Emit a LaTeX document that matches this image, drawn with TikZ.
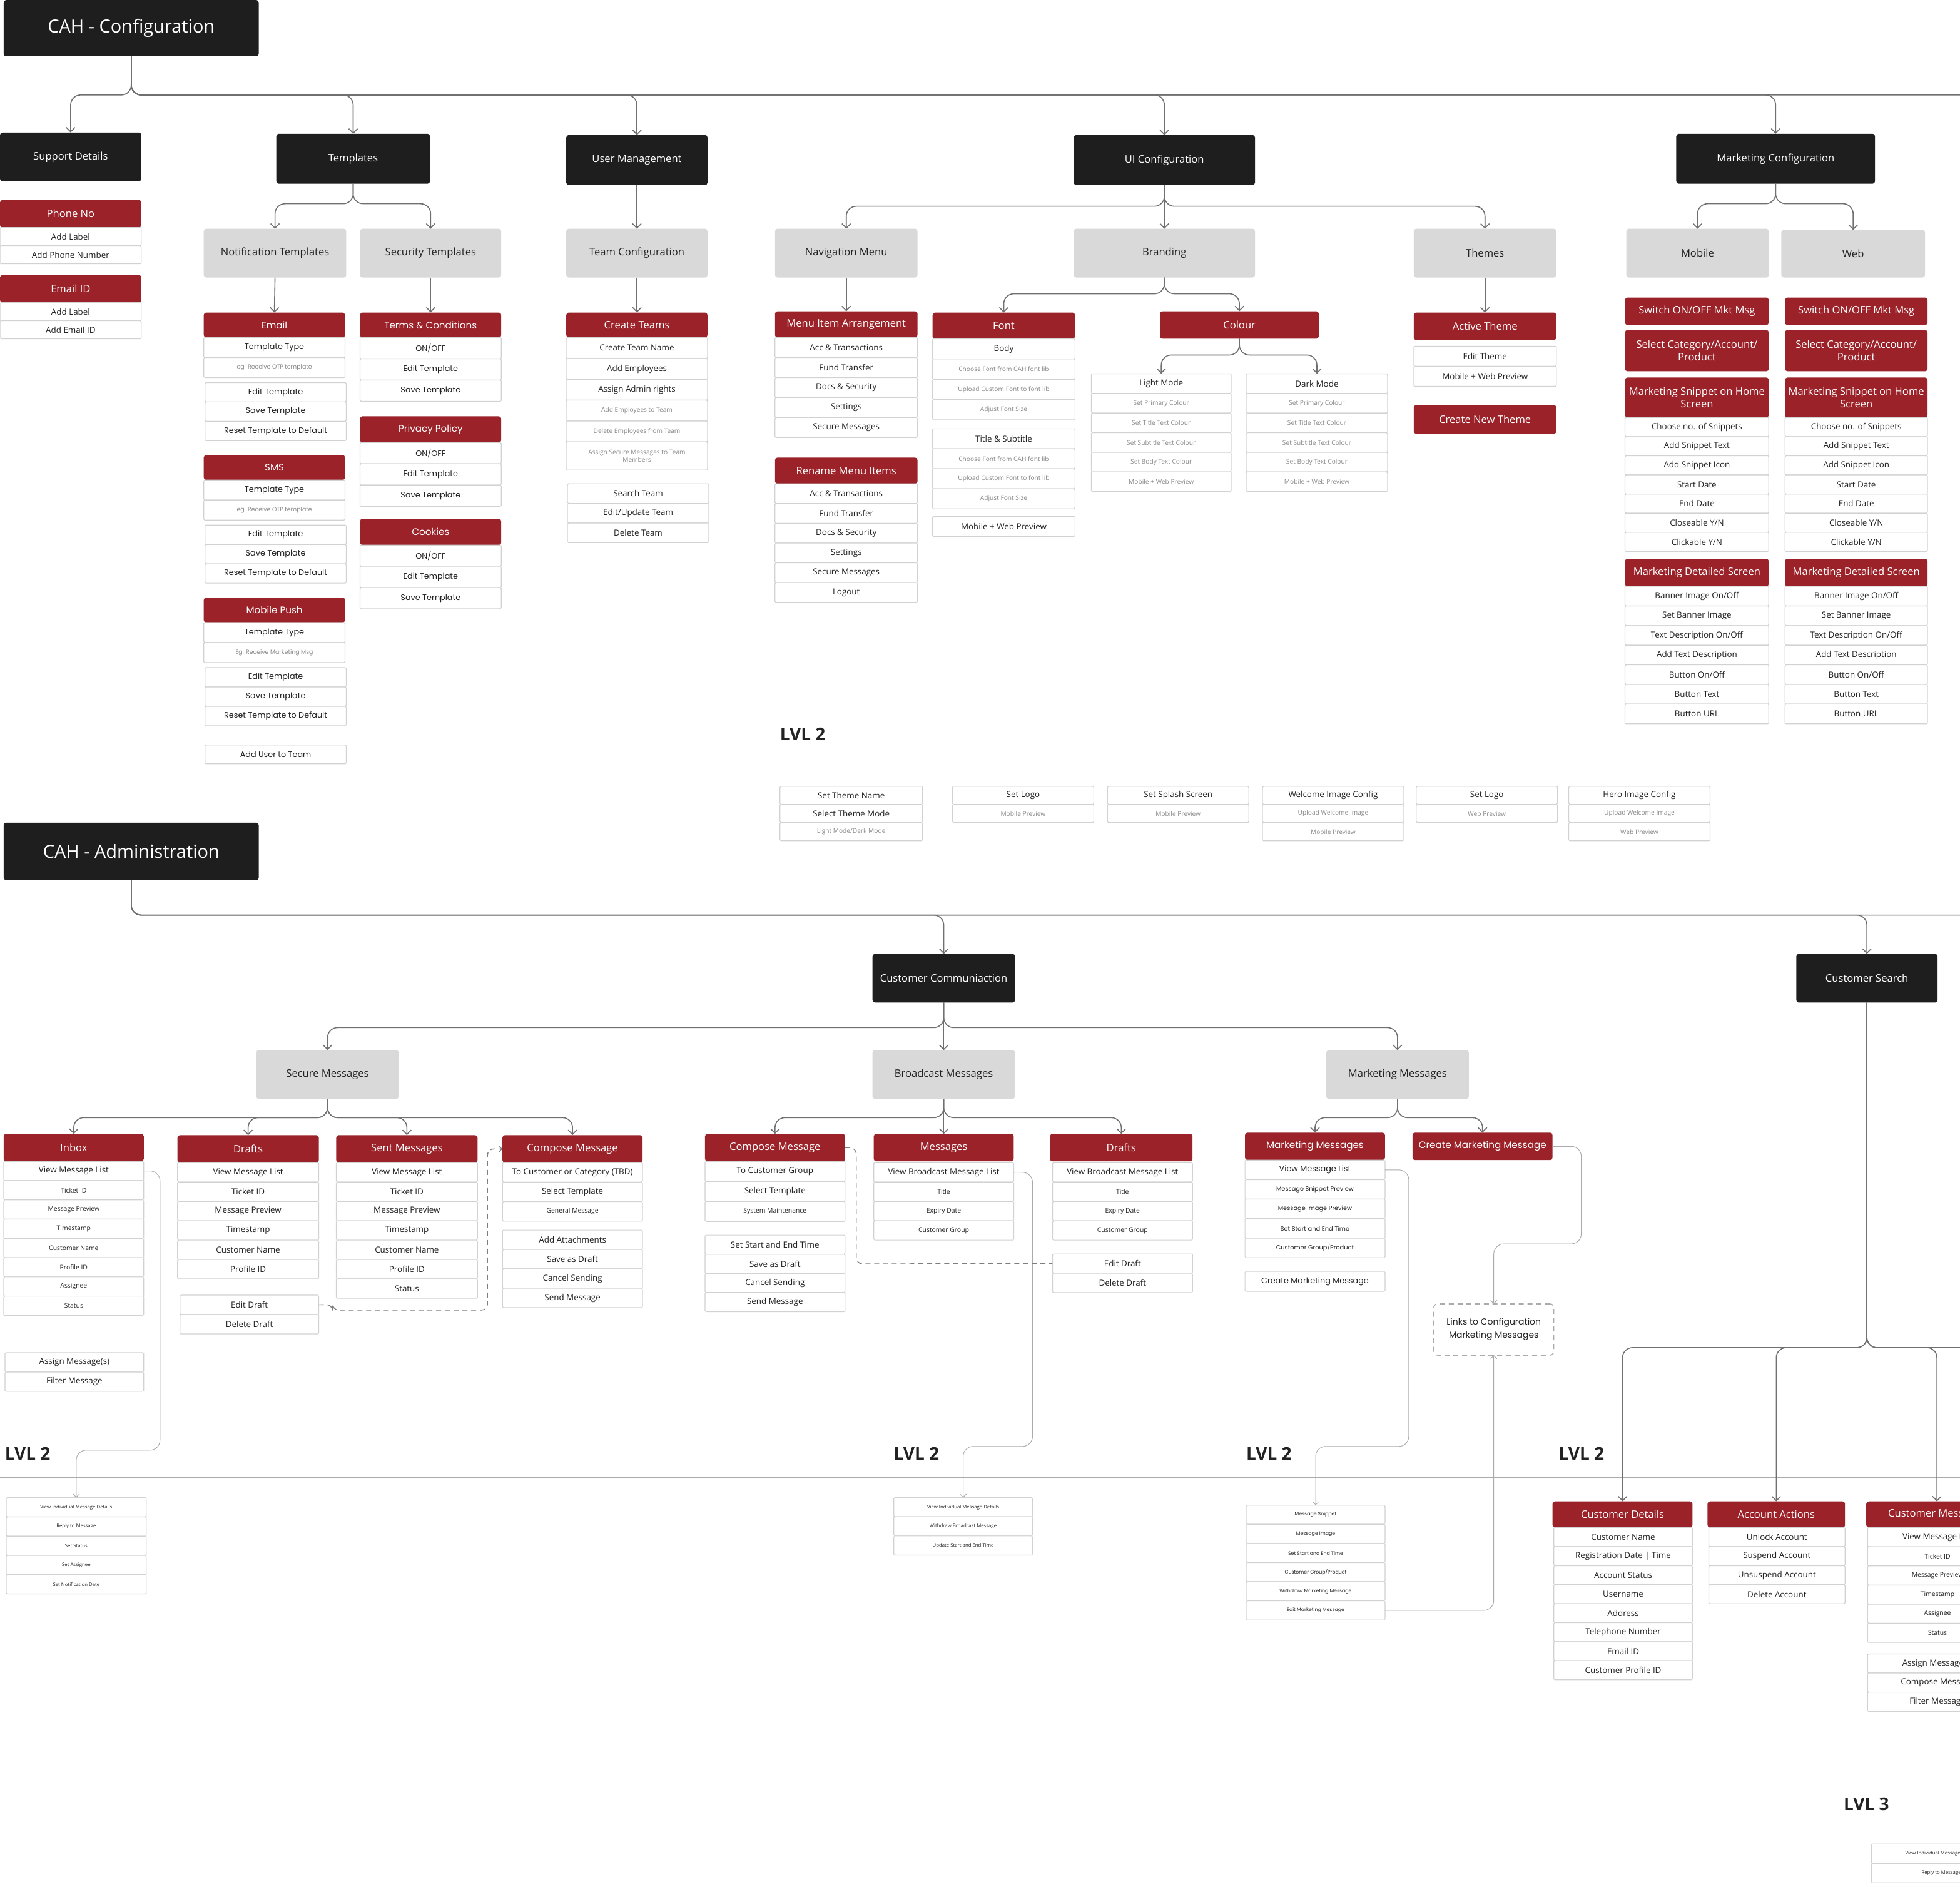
\documentclass[tikz,border=0pt]{standalone}
\usepackage{fontspec}
\setmainfont{Open Sans}
\newfontfamily\pop{Poppins}
\usetikzlibrary{arrows.meta}
\definecolor{dkc}{HTML}{1E1E1E}
\definecolor{grc}{HTML}{D9D9D9}
\definecolor{rdc}{HTML}{9B2229}
\definecolor{bdc}{HTML}{D2D2D2}
\definecolor{txc}{HTML}{222222}
\definecolor{gtc}{HTML}{8A8A8A}
\definecolor{cnc}{HTML}{707070}
\definecolor{lnc}{HTML}{ABABAB}
\newcommand\sG[1]{{\fontsize{5.1}{6}\selectfont\color{gtc}#1}}
\newcommand\sD[1]{{\fontsize{5.2}{6}\selectfont #1}}
\newcommand\sP[1]{{\pop\fontsize{4.7}{5.5}\selectfont\color{gtc}#1}}
\newcommand\sQ[1]{{\pop\fontsize{4.9}{5.5}\selectfont #1}}
\newcommand\bx[7]{\node[#1, minimum width={#4-#2}, minimum height={#5-#3}] (#6) at ({(#2+#4)/2},{(#3+#5)/2}) {#7};}
\newcommand\blist[7]{\foreach \lt [count=\i] in {#7} {\node[#1, minimum width={#3-#2}, minimum height=#5] (#6\i) at ({(#2+#3)/2},{#4+(\i-0.5)*#5}) {\lt};}}
\tikzset{
 every node/.style={inner sep=1pt, outer sep=0pt, align=center},
 dk/.style={fill=dkc, rounded corners=2pt, text=white, font=\fontsize{8.3}{9.5}\selectfont},
 gr/.style={fill=grc, rounded corners=2pt, text=txc, font=\fontsize{8.3}{9.5}\selectfont},
 rd/.style={fill=rdc, rounded corners=2pt, text=white, font=\fontsize{8.3}{9.8}\selectfont},
 rdp/.style={rd, font=\pop\fontsize{7.6}{9}\selectfont},
 itm/.style={draw=bdc, fill=white, line width=0.6pt, rounded corners=0.8pt, text=txc, font=\fontsize{6.7}{7.5}\selectfont},
 itms/.style={itm, text=gtc, font=\fontsize{5.1}{6.5}\selectfont},
 itmp/.style={itm, font=\pop\fontsize{6.4}{7}\selectfont},
 itmt/.style={itm, font=\fontsize{3.9}{4.5}\selectfont},
 itmpt/.style={itm, font=\pop\fontsize{3.9}{4.5}\selectfont},
 lbox/.style={draw=lnc, dashed, dash pattern=on 4pt off 3pt, line width=0.8pt, rounded corners=3pt, fill=white, text=txc, font=\pop\fontsize{7}{10.5}\selectfont},
 conn/.style={draw=cnc, line width=0.8pt, rounded corners=8pt},
 arr/.style={-{Straight Barb[length=3.5pt,width=7pt]}},
 lnk/.style={draw=lnc, line width=0.5pt, rounded corners=8pt},
 arrs/.style={-{Straight Barb[length=2.5pt,width=5pt]}},
 dsh/.style={draw=cnc!90, line width=0.7pt, dash pattern=on 4pt off 3pt, rounded corners=5pt},
 sep/.style={draw=lnc, line width=0.5pt},
 lvl/.style={font=\fontsize{14}{16}\selectfont\bfseries, text=txc, anchor=west, inner sep=0pt},
}
\begin{document}
\begin{tikzpicture}[x=1pt,y=-1pt]
\useasboundingbox (0,0) rectangle (1568,1509);
\fill[white] (0,0) rectangle (1568,1509);

% ================= CONFIGURATION =================
\bx{dk}{3}{0}{207}{45}{cfg}{\fontsize{14.5}{16}\selectfont CAH - Configuration}
\bx{dk}{0}{106}{113}{145}{sup}{Support Details}
\bx{dk}{221}{107}{344}{147}{tpl}{Templates}
\bx{dk}{453}{108}{566}{148}{um}{User Management}
\bx{dk}{859}{108}{1004}{148}{ui}{UI Configuration}
\bx{dk}{1341}{107}{1500}{147}{mc}{Marketing Configuration}

% Support details
\bx{rd}{0}{160}{113}{182}{ph}{Phone No}
\blist{itm}{0}{113}{182}{14.5}{phi}{Add Label, Add Phone Number}
\bx{rd}{0}{220}{113}{242}{eid}{Email ID}
\blist{itm}{0}{113}{242}{14.5}{eidi}{Add Label, Add Email ID}

% Templates
\bx{gr}{163}{183}{277}{222}{nt}{Notification Templates}
\bx{gr}{288}{183}{401}{222}{st}{Security Templates}
\bx{rdp}{163}{250}{276}{270}{em}{Email}
\blist{itmp}{163}{276}{270}{16}{emi}{Template Type, {\sP{eg. Receive OTP template}}}
\blist{itmp}{164}{277}{306}{15.5}{emj}{Edit Template, Save Template, Reset Template to Default}
\bx{rdp}{163}{364}{276}{384}{sms}{SMS}
\blist{itmp}{163}{276}{384}{16}{smsi}{Template Type, {\sP{eg. Receive OTP template}}}
\blist{itmp}{164}{277}{420}{15.5}{smsj}{Edit Template, Save Template, Reset Template to Default}
\bx{rdp}{163}{478}{276}{498}{mp}{Mobile Push}
\blist{itmp}{163}{276}{498}{16}{mpi}{Template Type, {\sP{Eg. Receive Marketing Msg}}}
\blist{itmp}{164}{277}{534}{15.5}{mpj}{Edit Template, Save Template, Reset Template to Default}
\bx{itmp}{164}{596}{277}{611}{aut}{Add User to Team}

\bx{rdp}{288}{250}{401}{270}{tc}{Terms \& Conditions}
\blist{itmp}{288}{401}{270}{17}{tci}{{ON/OFF}, Edit Template, Save Template}
\bx{rdp}{288}{333}{401}{354}{pp}{Privacy Policy}
\blist{itmp}{288}{401}{354}{17}{ppi}{{ON/OFF}, Edit Template, Save Template}
\bx{rdp}{288}{415}{401}{436}{ck}{Cookies}
\blist{itmp}{288}{401}{436}{17}{cki}{{ON/OFF}, Edit Template, Save Template}

% User management
\bx{gr}{453}{183}{566}{222}{tcf}{Team Configuration}
\bx{rd}{453}{250}{566}{270}{ctm}{Create Teams}
\blist{itm}{453}{566}{270}{16.7}{cti}{Create Team Name, Add Employees, Assign Admin rights, {\sG{Add Employees to Team}}, {\sG{Delete Employees from Team}}}
\bx{itms}{453}{353.5}{566}{376}{cti6}{Assign Secure Messages to Team\\Members}
\blist{itm}{454}{567}{387}{15.7}{sti}{Search Team, {Edit/Update Team}, Delete Team}

% UI configuration
\bx{gr}{620}{183}{734}{222}{nav}{Navigation Menu}
\bx{gr}{859}{183}{1004}{222}{brd}{Branding}
\bx{gr}{1131}{183}{1245}{222}{thm}{Themes}
\bx{rd}{620}{249}{734}{270}{mia}{Menu Item Arrangement}
\blist{itm}{620}{734}{270}{16}{miai}{Acc \& Transactions, Fund Transfer, Docs \& Security, Settings, Secure Messages}
\bx{rd}{620}{366}{734}{387}{rmi}{Rename Menu Items}
\blist{itm}{620}{734}{387}{15.8}{rmii}{Acc \& Transactions, Fund Transfer, Docs \& Security, Settings, Secure Messages, Logout}
\bx{rd}{746}{250}{860}{271}{fnt}{Font}
\blist{itm}{746}{860}{271}{16.2}{fnti}{Body, {\sG{Choose Font from CAH font lib}}, {\sG{Upload Custom Font to font lib}}, {\sG{Adjust Font Size}}}
\blist{itm}{746}{860}{343}{16}{tsi}{Title \& Subtitle, {\sG{Choose Font from CAH font lib}}, {\sG{Upload Custom Font to font lib}}, {\sG{Adjust Font Size}}}
\bx{itm}{746}{413}{860}{429}{mwp}{Mobile + Web Preview}
\bx{rd}{928}{249}{1055}{271}{col}{Colour}
\blist{itm}{873}{985}{299}{15.7}{lmi}{Light Mode, {\sG{Set Primary Colour}}, {\sG{Set Title Text Colour}}, {\sG{Set Subtitle Text Colour}}, {\sG{Set Body Text Colour}}, {\sG{Mobile + Web Preview}}}
\blist{itm}{997}{1110}{299}{15.7}{dmi}{Dark Mode, {\sG{Set Primary Colour}}, {\sG{Set Title Text Colour}}, {\sG{Set Subtitle Text Colour}}, {\sG{Set Body Text Colour}}, {\sG{Mobile + Web Preview}}}
\bx{rd}{1131}{250}{1245}{272}{act}{Active Theme}
\blist{itm}{1131}{1245}{277}{16}{acti}{Edit Theme, Mobile + Web Preview}
\bx{rd}{1131}{324}{1245}{347}{cnt}{Create New Theme}

% Marketing configuration
\bx{gr}{1301}{183}{1415}{222}{mob}{Mobile}
\bx{gr}{1425}{184}{1540}{222}{web}{Web}
\foreach \xa/\xb/\p in {1300/1415/mo, 1428/1542/we}{
 \bx{rd}{\xa}{238}{\xb}{260}{\p-sw}{Switch ON/OFF Mkt Msg}
 \bx{rd}{\xa}{264}{\xb}{297}{\p-sc}{Select Category/Account/\\Product}
 \bx{rd}{\xa}{302}{\xb}{334}{\p-sn}{Marketing Snippet on Home\\Screen}
 \blist{itm}{\xa}{\xb}{334}{15.3}{\p-sni}{Choose no. of Snippets, Add Snippet Text, Add Snippet Icon, Start Date, End Date, {Closeable Y/N}, {Clickable Y/N}}
 \bx{rd}{\xa}{447}{\xb}{469}{\p-ds}{Marketing Detailed Screen}
 \blist{itm}{\xa}{\xb}{469}{15.7}{\p-dsi}{{Banner Image On/Off}, Set Banner Image, {Text Description On/Off}, Add Text Description, {Button On/Off}, Button Text, Button URL}
}

% LVL 2 (configuration)
\node[lvl] (lvc) at (624,587) {LVL 2};
\draw[sep] (624,604) -- (1368,604);
\blist{itm}{624}{738}{629}{14.5}{l2a}{Set Theme Name, Select Theme Mode, {\sG{Light Mode/Dark Mode}}}
\blist{itm}{762}{875}{629}{14.5}{l2b}{Set Logo, {\sG{Mobile Preview}}}
\blist{itm}{886}{999}{629}{14.5}{l2c}{Set Splash Screen, {\sG{Mobile Preview}}}
\blist{itm}{1010}{1123}{629}{14.5}{l2d}{Welcome Image Config, {\sG{Upload Welcome Image}}, {\sG{Mobile Preview}}}
\blist{itm}{1133}{1246}{629}{14.5}{l2e}{Set Logo, {\sG{Web Preview}}}
\blist{itm}{1255}{1368}{629}{14.5}{l2f}{Hero Image Config, {\sG{Upload Welcome Image}}, {\sG{Web Preview}}}

% configuration connectors
\draw[conn] (cfg.south) -- (105,76) -- (1600,76);
\foreach \c in {sup,tpl,um,ui,mc} \draw[conn,arr] (cfg.south) -- (105,76) -| (\c.north);
\foreach \c in {nt,st} \draw[conn,arr] (tpl.south) -- ++(0,16) -| (\c.north);
\draw[conn,arr] (um.south) -- (tcf.north);
\foreach \c in {nav,thm} \draw[conn,arr] (ui.south) -- ++(0,17) -| (\c.north);
\draw[conn,arr] (ui.south) -- (brd.north);
\draw[conn,arr] (nt.south) -- (em.north);
\draw[conn,arr] (st.south) -- (tc.north);
\draw[conn,arr] (tcf.south) -- (ctm.north);
\draw[conn,arr] (nav.south) -- (mia.north);
\draw[conn,arr] (thm.south) -- (act.north);
\foreach \c in {fnt,col} \draw[conn,arr] (brd.south) -- ++(0,13) -| (\c.north);
\foreach \c in {lmi1,dmi1} \draw[conn,arr] (col.south) -- ++(0,13) -| (\c.north);
\foreach \c in {mob,web} \draw[conn,arr] (mc.south) -- ++(0,16) -| (\c.north);

% ================= ADMINISTRATION =================
\bx{dk}{3}{658}{207}{704}{adm}{\fontsize{14.5}{16}\selectfont CAH - Administration}
\bx{dk}{698}{763}{812}{802}{cc}{Customer Communiaction}
\bx{dk}{1437}{763}{1550}{802}{cs}{Customer Search}
\bx{gr}{205}{840}{319}{879}{sm}{Secure Messages}
\bx{gr}{698}{840}{812}{879}{bm}{Broadcast Messages}
\bx{gr}{1061}{840}{1175}{879}{mm}{Marketing Messages}

% Secure messages
\bx{rd}{3}{907}{115}{929}{ib}{Inbox}
\blist{itm}{3}{115}{929}{15.4}{ibi}{View Message List, {\sD{Ticket ID}}, {\sD{Message Preview}}, {\sD{Timestamp}}, {\sD{Customer Name}}, {\sD{Profile ID}}, {\sD{Assignee}}, {\sD{Status}}}
\blist{itm}{4}{115}{1082}{15.5}{ibj}{Assign Message(s), Filter Message}
\bx{rd}{142}{908}{255}{930}{dr}{Drafts}
\blist{itm}{142}{255}{930}{15.5}{dri}{View Message List, Ticket ID, Message Preview, Timestamp, Customer Name, Profile ID}
\blist{itm}{144}{255}{1036}{15.5}{drj}{Edit Draft, Delete Draft}
\bx{rd}{269}{908}{382}{930}{sn}{Sent Messages}
\blist{itm}{269}{382}{930}{15.5}{sni}{View Message List, Ticket ID, Message Preview, Timestamp, Customer Name, Profile ID, Status}
\bx{rd}{402}{908}{514}{930}{cp}{Compose Message}
\blist{itm}{402}{514}{930}{15.6}{cpi}{To Customer or Category (TBD), Select Template, {\sD{General Message}}}
\blist{itm}{402}{514}{984}{15.5}{cpj}{Add Attachments, Save as Draft, Cancel Sending, Send Message}

% Broadcast messages
\bx{rd}{564}{907}{676}{929}{bc}{Compose Message}
\blist{itm}{564}{676}{929}{16}{bci}{To Customer Group, Select Template, {\sD{System Maintenance}}}
\blist{itm}{564}{676}{988}{15.3}{bcj}{Set Start and End Time, Save as Draft, Cancel Sending, Send Message}
\bx{rd}{699}{907}{811}{929}{bms}{Messages}
\blist{itm}{699}{811}{930}{15.5}{bmsi}{View Broadcast Message List, {\sD{Title}}, {\sD{Expiry Date}}, {\sD{Customer Group}}}
\bx{rd}{840}{907}{954}{929}{bdr}{Drafts}
\blist{itm}{842}{954}{930}{15.5}{bdri}{View Broadcast Message List, {\sD{Title}}, {\sD{Expiry Date}}, {\sD{Customer Group}}}
\blist{itm}{842}{954}{1003}{15.5}{bdrj}{Edit Draft, Delete Draft}

% Marketing messages
\bx{rdp}{996}{906}{1108}{928}{mmr}{Marketing Messages}
\blist{itmp}{996}{1108}{928}{15.6}{mmri}{View Message List, {\sQ{Message Snippet Preview}}, {\sQ{Message Image Preview}}, {\sQ{Set Start and End Time}}, {\sQ{Customer Group/Product}}}
\bx{itmp}{996}{1017}{1108}{1033}{cmm2}{Create Marketing Message}
\bx{rdp}{1130}{906}{1242}{928}{cmm}{Create Marketing Message}
\bx{lbox}{1147}{1043}{1243}{1084}{links}{Links to Configuration\\Marketing Messages}

% Customer search
\bx{rd}{1242}{1201}{1354}{1222}{cd}{Customer Details}
\blist{itm}{1243}{1354}{1222}{15.2}{cdi}{Customer Name, Registration Date | Time, Account Status, Username, Address, Telephone Number, Email ID, Customer Profile ID}
\bx{rd}{1366}{1201}{1476}{1222}{aa}{Account Actions}
\blist{itm}{1367}{1476}{1222}{15.2}{aai}{Unlock Account, Suspend Account, Unsuspend Account, Delete Account}
\bx{rd}{1493}{1201}{1606}{1222}{cmsg}{Customer Messages}
\blist{itm}{1494}{1606}{1222}{15.3}{cmi}{View Message List, {\sD{Ticket ID}}, {\sD{Message Preview}}, {\sD{Timestamp}}, {\sD{Assignee}}, {\sD{Status}}}
\blist{itm}{1494}{1606}{1323}{15.3}{cmj}{Assign Message(s), Compose Message, Filter Message}

% LVL 2 (administration)
\draw[sep] (0,1182) -- (1568,1182);
\node[lvl] (lva) at (4,1163) {LVL 2};
\node[lvl] (lvb) at (715,1163) {LVL 2};
\node[lvl] (lvm) at (997,1163) {LVL 2};
\node[lvl] (lvs) at (1247,1163) {LVL 2};
\blist{itmt}{5}{117}{1198}{15.4}{ilv}{View Individual Message Details, Reply to Message, Set Status, Set Assignee, Set Notification Date}
\blist{itmt}{715}{826}{1198}{15.3}{blv}{View Individual Message Details, Withdraw Broadcast Message, Update Start and End Time}
\blist{itmpt}{997}{1108}{1204}{15.3}{mlv}{Message Snippet, Message Image, Set Start and End Time, {Customer Group/Product}, Withdraw Marketing Message, Edit Marketing Message}

% LVL 3
\node[lvl] (lv3) at (1475,1443) {LVL 3};
\draw[sep] (1475,1462) -- (1600,1462);
\blist{itmt}{1497}{1609}{1475}{15.5}{l3}{View Individual Message Details, Reply to Message}

% administration connectors
\draw[conn] (adm.south) -- (105,732) -- (1600,732);
\foreach \c in {cc,cs} \draw[conn,arr] (adm.south) -- (105,732) -| (\c.north);
\foreach \c in {sm,mm} \draw[conn,arr] (cc.south) -- ++(0,20) -| (\c.north);
\draw[conn,arr] (cc.south) -- (bm.north);
\foreach \c in {ib,dr,sn,cp} \draw[conn,arr] (sm.south) -- ++(0,15) -| (\c.north);
\foreach \c in {bc,bdr} \draw[conn,arr] (bm.south) -- ++(0,15) -| (\c.north);
\draw[conn,arr] (bm.south) -- (bms.north);
\foreach \c in {mmr,cmm} \draw[conn,arr] (mm.south) -- ++(0,15) -| (\c.north);
\draw[conn] (cs.south) -- (1493.5,1078) -- (1600,1078);
\foreach \c in {cd,aa,cmsg} \draw[conn,arr] (cs.south) -- (1493.5,1078) -| (\c.north);

% links
\draw[lnk,arrs] (ibi1.east) -| (128,1160) -| (ilv1.north);
\draw[lnk,arrs] (bmsi1.east) -| (826,1157) -| (blv1.north);
\draw[lnk,arrs] (mmri1.east) -| (1127,1157) -| (mlv1.north);
\draw[lnk,arrs] (cmm.east) -| (1265,995) -| (links.north);
\draw[lnk,arrs] (mlv6.east) -| (links.south);
\draw[dsh,arrs] (drj1.east) -- (266,1043.5) -- (266,1048) -- (390,1048) -- (390,919) -- (cp.west);
\draw[dsh] (bc.east) -- (685,918) -- (685,1011) -- (bdrj1.west);
\end{tikzpicture}
\end{document}
